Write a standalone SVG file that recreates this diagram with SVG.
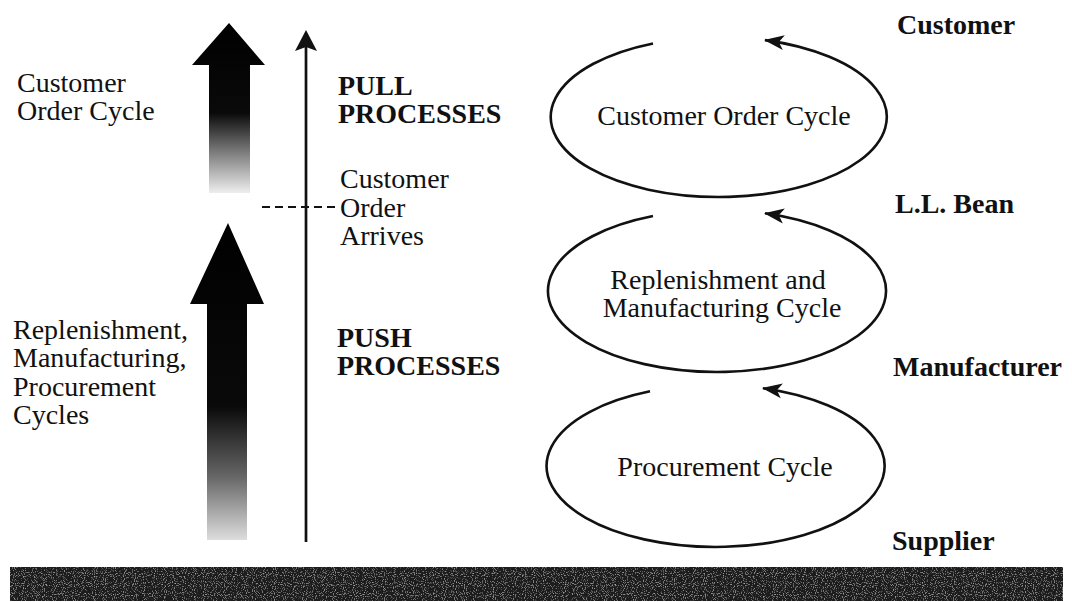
<svg xmlns="http://www.w3.org/2000/svg" width="1072" height="602" viewBox="0 0 1072 602">
<style>
.t{font-family:"Liberation Serif","Times New Roman",serif;font-size:28px;fill:#111}
.b{font-family:"Liberation Serif","Times New Roman",serif;font-size:28px;font-weight:bold;fill:#111}
.cyc{fill:none;stroke:#111;stroke-width:2.6;marker-end:url(#ah)}
.m{text-anchor:middle}
</style>
<defs>
<marker id="ah" markerUnits="userSpaceOnUse" viewBox="0 -8 20 16" refX="19" refY="0" markerWidth="20" markerHeight="16" orient="auto">
<path d="M20,0 L0,-7.5 L5,0 L0,7.5 z" fill="#111"/>
</marker>
<linearGradient id="g1" x1="0" y1="0" x2="0" y2="1">
<stop offset="0" stop-color="#000"/>
<stop offset="0.53" stop-color="#0a0a0a"/>
<stop offset="0.75" stop-color="#777"/>
<stop offset="1" stop-color="#eee"/>
</linearGradient>
<linearGradient id="g2" x1="0" y1="0" x2="0" y2="1">
<stop offset="0" stop-color="#000"/>
<stop offset="0.58" stop-color="#0a0a0a"/>
<stop offset="0.8" stop-color="#666"/>
<stop offset="1" stop-color="#ddd"/>
</linearGradient>
<filter id="grain" x="0" y="0" width="1" height="1">
<feTurbulence type="fractalNoise" baseFrequency="0.9" numOctaves="1" seed="3" result="n"/>
<feColorMatrix in="n" type="matrix" values="0 0 0 0 0.55  0 0 0 0 0.55  0 0 0 0 0.55  2.5 0 0 0 -1.35" result="s"/>
<feComposite in="s" in2="SourceGraphic" operator="in" result="m"/>
<feMerge><feMergeNode in="SourceGraphic"/><feMergeNode in="m"/></feMerge>
</filter>
</defs>
<rect width="1072" height="602" fill="#fff"/>

<g id="arrow-customer-order">
<polygon points="229,23 265,65 250,65 250,193 209,193 209,65 192,65" fill="url(#g1)"/>
<text class="t" x="17" y="92">Customer</text>
<text class="t" x="17" y="120">Order Cycle</text>
</g>

<g id="arrow-push">
<polygon points="228,223 264,304 247,304 247,540 207,540 207,304 190,304" fill="url(#g2)"/>
<text class="t" x="13" y="339">Replenishment,</text>
<text class="t" x="13" y="367">Manufacturing,</text>
<text class="t" x="13" y="396">Procurement</text>
<text class="t" x="13" y="424">Cycles</text>
</g>

<g id="connectors">
<line x1="306" y1="542" x2="306" y2="45" stroke="#111" stroke-width="2.7"/>
<path d="M306,30 L317,51 L306,47 L295,51 z" fill="#111"/>
<line x1="262" y1="207" x2="337" y2="207" stroke="#111" stroke-width="2" stroke-dasharray="8,5"/>
</g>

<g id="pull-label">
<text class="b" x="338" y="95">PULL</text>
<text class="b" x="338" y="123">PROCESSES</text>
</g>
<g id="order-arrives">
<text class="t" x="340" y="188">Customer</text>
<text class="t" x="340" y="217">Order</text>
<text class="t" x="340" y="245">Arrives</text>
</g>
<g id="push-label">
<text class="b" x="337" y="347">PUSH</text>
<text class="b" x="337" y="375">PROCESSES</text>
</g>

<g id="cycle-customer-order">
<path class="cyc" d="M653,43.4 A168,80 0 1 0 765,40.1"/>
<text class="t m" x="724" y="125">Customer Order Cycle</text>
</g>
<g id="cycle-replenishment">
<path class="cyc" d="M653,216 A169,81 0 1 0 765,213.3"/>
<text class="t m" x="718" y="289">Replenishment and</text>
<text class="t m" x="722" y="317">Manufacturing Cycle</text>
</g>
<g id="cycle-procurement">
<path class="cyc" d="M650,391.3 A169,81 0 1 0 763,388.2"/>
<text class="t m" x="725" y="476">Procurement Cycle</text>
</g>

<g id="stage-customer"><text class="b" x="897" y="34">Customer</text></g>
<g id="stage-llbean"><text class="b" x="895" y="213">L.L. Bean</text></g>
<g id="stage-manufacturer"><text class="b" x="893" y="376">Manufacturer</text></g>
<g id="stage-supplier"><text class="b" x="892" y="550">Supplier</text></g>

<g id="ground-bar">
<rect x="10" y="567" width="1053" height="34" fill="#1e1e1e" filter="url(#grain)"/>
</g>
</svg>
